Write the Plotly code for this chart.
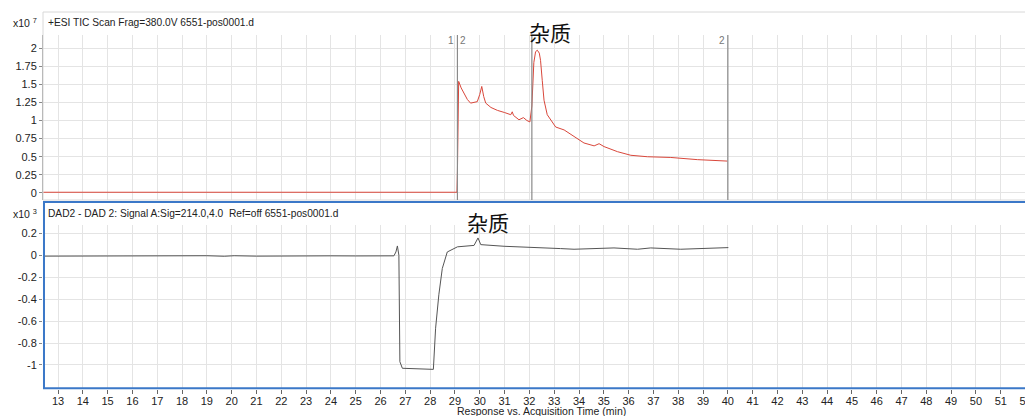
import plotly.graph_objects as go

# ---------------- data ----------------
tic_time = [12.40, 29.08, 29.10, 29.15, 29.25, 29.35, 29.50, 29.63, 29.80, 29.90, 30.00,
            30.08, 30.16, 30.24, 30.45, 30.71, 31.00, 31.25, 31.31, 31.36, 31.58, 31.76,
            31.90, 32.02, 32.10, 32.18, 32.25, 32.32, 32.40, 32.45, 32.52, 32.59, 32.72,
            32.90, 33.06, 33.40, 33.80, 34.20, 34.61, 34.81, 35.01, 35.55, 36.09, 36.76,
            37.70, 38.77, 39.98]
tic_value = [0.01, 0.01, 0.30, 1.54, 1.45, 1.38, 1.29, 1.24, 1.25, 1.26, 1.36,
             1.47, 1.33, 1.24, 1.18, 1.14, 1.11, 1.08, 1.12, 1.07, 1.01, 1.04,
             1.00, 0.98, 1.20, 1.80, 1.95, 1.97, 1.93, 1.83, 1.55, 1.28, 1.08,
             0.98, 0.91, 0.87, 0.78, 0.69, 0.65, 0.68, 0.64, 0.57, 0.52, 0.50,
             0.49, 0.46, 0.44]

dad_time = [12.40, 13.40, 13.50, 14.00, 15.00, 15.40, 16.50, 17.00, 18.00, 19.00,
            19.70, 20.10, 21.00, 22.00, 22.60, 23.00, 24.00, 25.00, 26.00, 26.54,
            26.62, 26.68, 26.74, 26.78, 26.88, 28.13, 28.22, 28.35, 28.49, 28.69,
            29.10, 29.77, 29.93, 30.04, 30.98, 31.78, 33.26, 33.80, 35.41, 36.36,
            36.89, 38.10, 40.02]
dad_value = [-0.008, -0.008, -0.002, -0.006, -0.004, -0.008, -0.003, -0.007, -0.006, -0.004,
             -0.009, -0.004, -0.008, -0.005, -0.003, -0.008, -0.005, -0.006, -0.004, -0.005,
             0.030, 0.085, 0.000, -0.970, -1.030, -1.040, -0.665, -0.360, -0.120, 0.030,
             0.077, 0.090, 0.158, 0.097, 0.082, 0.077, 0.061, 0.055, 0.067, 0.055,
             0.067, 0.055, 0.070]

marker_times = [29.10, 32.10, 40.00]
marker_labels = ["1|2", "", "2"]

top_ticks = [0, 0.25, 0.5, 0.75, 1, 1.25, 1.5, 1.75, 2]
top_ticktext = ["0", "0.25", "0.5", "0.75", "1", "1.25", "1.5", "1.75", "2"]
bot_ticks = [-1, -0.8, -0.6, -0.4, -0.2, 0, 0.2]
bot_ticktext = ["-1", "-0.8", "-0.6", "-0.4", "-0.2", "0", "0.2"]
x_ticks = list(range(13, 53))

top_title = "+ESI TIC Scan Frag=380.0V 6551-pos0001.d"
bot_title = "DAD2 - DAD 2: Signal A:Sig=214.0,4.0  Ref=off 6551-pos0001.d"
x_title = "Response vs. Acquisition Time (min)"
impurity = "杂质"

# ---------------- layout helpers ----------------
# the page body adds an 8px offset; lay out in screen pixels and convert
OFF = 8
W, H = 1033 - OFF, 416 - OFF
SL, ST, SR, SB = 43, 12, 1033, 389      # plot area edges in screen pixels
ML, MT = SL - OFF, ST - OFF
MR = 1033 - SR
MB = (H + OFF) - SB
PH = H - MT - MB
PW = W - ML - MR


def py(y):  # screen pixel y -> paper y
    return (SB - y) / PH


def px(x):  # screen pixel x -> paper x
    return (x - SL) / PW


FONT = "Liberation Sans, Arial, sans-serif"
GRID = "#e4e4e4"

fig = go.Figure()
fig.add_trace(go.Scatter(x=tic_time, y=tic_value, mode="lines",
                         line=dict(color="#d9473b", width=1), xaxis="x", yaxis="y",
                         showlegend=False, hoverinfo="skip"))
fig.add_trace(go.Scatter(x=dad_time, y=dad_value, mode="lines",
                         line=dict(color="#555555", width=1), xaxis="x2", yaxis="y2",
                         showlegend=False, hoverinfo="skip"))

xr = [12.395, 52.30]
common_x = dict(range=xr, showgrid=True, gridcolor=GRID, gridwidth=1, zeroline=False,
                tickvals=x_ticks, linecolor="rgba(0,0,0,0)", automargin=False)

fig.update_layout(
    width=W, height=H,
    margin=dict(l=ML, r=MR, t=MT, b=MB, autoexpand=False),
    paper_bgcolor="white", plot_bgcolor="white",
    font=dict(family=FONT, size=11, color="#222"),
    xaxis=dict(**common_x, anchor="y", showticklabels=False, ticks=""),
    yaxis=dict(domain=[py(200), py(35)], range=[-0.097, 2.18], tickvals=top_ticks,
               ticktext=top_ticktext, showgrid=True, gridcolor=GRID, zeroline=False,
               ticks="outside", ticklen=3, tickcolor="#888", showline=True,
               linecolor="#999", linewidth=1, anchor="x", tickfont=dict(size=11),
               automargin=False),
    xaxis2=dict(**common_x, anchor="y2", matches="x", ticks="outside", ticklen=4,
                tickcolor="#666", tickfont=dict(size=11), ticklabelstandoff=-2),
    yaxis2=dict(domain=[0, py(225)], range=[-1.219, 0.276], tickvals=bot_ticks,
                ticktext=bot_ticktext, showgrid=True, gridcolor=GRID, zeroline=False,
                ticks="outside", ticklen=3, tickcolor="#888", anchor="x2",
                tickfont=dict(size=11), automargin=False),
)

shapes = []
# top panel frame
shapes.append(dict(type="rect", xref="paper", yref="paper", x0=0, x1=1.01,
                   y0=py(200), y1=py(12), line=dict(color="#d8d8d8", width=1)))
# bottom panel blue frame
shapes.append(dict(type="rect", xref="paper", yref="paper", x0=0.001, x1=1.01,
                   y0=0.002, y1=py(202), line=dict(color="#3b78c8", width=2)))
# vertical marker lines in top panel
for t in marker_times:
    shapes.append(dict(type="line", xref="x", yref="paper", x0=t, x1=t,
                       y0=py(200), y1=py(35), line=dict(color="#8a8a8a", width=1.2)))
fig.update_layout(shapes=shapes)

ann = []
ann.append(dict(text=top_title, xref="paper", yref="paper", x=px(46), y=py(22),
                xanchor="left", yanchor="middle", showarrow=False,
                font=dict(size=10.2, color="#222")))
ann.append(dict(text=bot_title, xref="paper", yref="paper", x=px(46), y=py(213),
                xanchor="left", yanchor="middle", showarrow=False,
                font=dict(size=10.2, color="#222")))
ann.append(dict(text="x10 <sup>7</sup>", xref="paper", yref="paper", x=px(39), y=py(22),
                xanchor="right", yanchor="middle", showarrow=False,
                font=dict(size=10.5, color="#222")))
ann.append(dict(text="x10 <sup>3</sup>", xref="paper", yref="paper", x=px(39), y=py(213),
                xanchor="right", yanchor="middle", showarrow=False,
                font=dict(size=10.5, color="#222")))
ann.append(dict(text=x_title, xref="paper", yref="paper", x=px(541), y=py(411),
                xanchor="center", yanchor="middle", showarrow=False,
                font=dict(size=10.5, color="#222")))
for t, lab in zip(marker_times, marker_labels):
    if lab == "1|2":
        ann.append(dict(text="1", xref="x", yref="paper", x=t, y=py(41), xanchor="right",
                        yanchor="middle", showarrow=False, xshift=-1,
                        font=dict(size=10, color="#777")))
        ann.append(dict(text="2", xref="x", yref="paper", x=t, y=py(41), xanchor="left",
                        yanchor="middle", showarrow=False, xshift=1,
                        font=dict(size=10, color="#777")))
    elif lab:
        ann.append(dict(text=lab, xref="x", yref="paper", x=t, y=py(41), xanchor="right",
                        yanchor="middle", showarrow=False, xshift=-1,
                        font=dict(size=10, color="#777")))
ann.append(dict(text=impurity, xref="x", yref="paper", x=32.85, y=py(32),
                xanchor="center", yanchor="middle", showarrow=False,
                font=dict(size=21, color="#111", family="Noto Sans CJK SC")))
ann.append(dict(text=impurity, xref="x2", yref="paper", x=30.35, y=py(222),
                xanchor="center", yanchor="middle", showarrow=False,
                font=dict(size=21, color="#111", family="Noto Sans CJK SC")))
fig.update_layout(annotations=ann)

fig.write_html("out.html")
